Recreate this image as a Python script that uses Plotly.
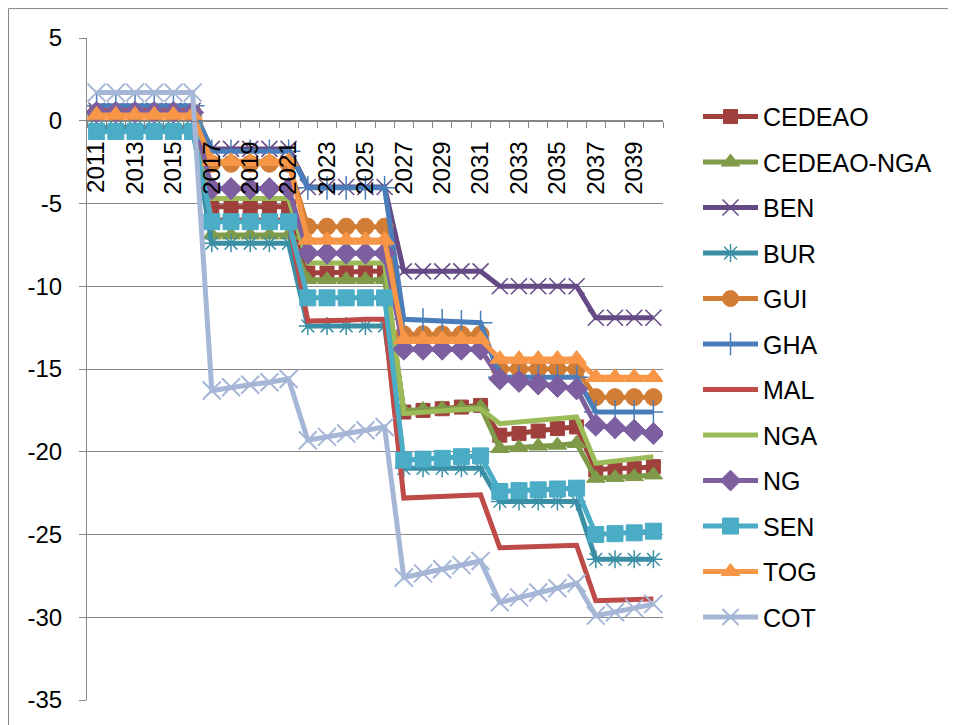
import plotly.graph_objects as go

years = list(range(2011, 2041))
tick_years = list(range(2011, 2041, 2))
y_ticks = [5, 0, -5, -10, -15, -20, -25, -30, -35]
series_names = ["CEDEAO", "CEDEAO-NGA", "BEN", "BUR", "GUI", "GHA", "MAL", "NGA", "NG", "SEN", "TOG", "COT"]

CEDEAO = [0.5]*6 + [-5.2]*5 + [-9.2, -9.2, -9.15, -9.1, -9.1] + [-17.6, -17.5, -17.4, -17.3, -17.2] + [-19.0, -18.9, -18.75, -18.6, -18.5] + [-21.1, -21.0, -21.0, -20.9]
CEDEAO_NGA = [0.5]*6 + [-6.9]*5 + [-9.6]*5 + [-17.5, -17.45, -17.4, -17.35, -17.3] + [-19.8, -19.75, -19.65, -19.6, -19.5] + [-21.6, -21.55, -21.5, -21.4]
BEN = [0.6]*6 + [-1.7]*5 + [-4.0]*5 + [-9.1]*5 + [-10.0]*5 + [-11.9]*4
BUR = [-0.4]*6 + [-7.4]*5 + [-12.4]*5 + [-21.0]*5 + [-23.0]*5 + [-26.5]*4
GUI = [0.5]*6 + [-2.6]*5 + [-6.4]*5 + [-12.9]*5 + [-15.0]*5 + [-16.7]*4
GHA = [0.9]*6 + [-1.85]*5 + [-4.05]*5 + [-12.0, -12.05, -12.1, -12.15, -12.2] + [-15.5]*5 + [-17.6]*4
MAL = [0.6]*6 + [-6.0]*5 + [-12.1, -12.1, -12.05, -12.0, -12.0] + [-22.8, -22.75, -22.7, -22.65, -22.6] + [-25.8, -25.75, -25.7, -25.7, -25.65] + [-29.0, -28.95, -28.95, -28.9]
NGA = [0.5]*6 + [-4.7]*5 + [-8.6]*5 + [-17.7, -17.6, -17.55, -17.45, -17.4] + [-18.3, -18.2, -18.1, -18.0, -17.9] + [-20.7, -20.55, -20.45, -20.3]
NG = [0.5]*6 + [-4.1]*5 + [-8.0]*5 + [-13.8]*5 + [-15.6, -15.75, -15.9, -16.05, -16.2] + [-18.4, -18.55, -18.7, -18.9]
SEN = [-0.65]*6 + [-6.1]*5 + [-10.7]*5 + [-20.5, -20.45, -20.4, -20.3, -20.25] + [-22.4, -22.35, -22.3, -22.25, -22.2] + [-25.0, -24.95, -24.9, -24.8]
TOG = [0.35]*6 + [-2.45]*5 + [-7.2]*5 + [-13.2]*5 + [-14.4]*5 + [-15.5]*4
COT = [1.7]*6 + [-16.3, -16.1, -15.95, -15.8, -15.6] + [-19.3, -19.1, -18.9, -18.7, -18.5] + [-27.6, -27.35, -27.1, -26.85, -26.6] + [-29.1, -28.8, -28.5, -28.25, -27.95] + [-29.9, -29.7, -29.45, -29.2]

values = [CEDEAO, CEDEAO_NGA, BEN, BUR, GUI, GHA, MAL, NGA, NG, SEN, TOG, COT]
colors = ["#A0403D", "#7F9A48", "#654A85", "#3B8FA5", "#D27D35", "#4A7EBB",
          "#BE4B48", "#9BBB59", "#7D5FA0", "#4BACC6", "#F79646", "#A5B6D6"]
symbols = ["square", "triangle-up", "x-thin-open", "asterisk-open", "circle", "cross-thin-open",
           None, None, "diamond", "square", "triangle-up", "x-thin-open"]
sizes = [14, 16, 16, 15, 17, 17, 0, 0, 17, 16, 17, 18]

fig = go.Figure()
for name, vals, col, sym, sz in zip(series_names, values, colors, symbols, sizes):
    if sym is None:
        mode = "lines"
        marker = dict()
    else:
        mode = "lines+markers"
        lw = 1.5 if ("thin" in sym or "asterisk" in sym) else 1
        if name == "COT":
            lw = 2
        marker = dict(symbol=sym, size=sz, color=col, line=dict(color=col, width=lw))
    fig.add_trace(go.Scatter(x=years, y=vals, name=name, mode=mode,
                             line=dict(color=col, width=5), marker=marker,
                             legendgroup=name))

grid = "#868686"
fig.update_layout(
    width=948, height=717,
    margin=dict(l=79, r=293, t=30, b=23),
    paper_bgcolor="white", plot_bgcolor="white",
    font=dict(family="Liberation Sans, Arial, sans-serif", size=24, color="black"),
    showlegend=True,
    legend=dict(x=1.0608, y=0.9157, xanchor="left", yanchor="top",
                font=dict(size=25), itemwidth=55, tracegroupgap=10,
                traceorder="grouped", bgcolor="rgba(0,0,0,0)"),
    xaxis=dict(range=[2010.5, 2040.5], tickvals=tick_years, ticktext=[str(y) for y in tick_years],
               tickangle=-90, anchor="free", position=0.875, showline=True, linecolor=grid,
               linewidth=1, showgrid=False, zeroline=False, ticks="", ticklabelstandoff=10,
               minor=dict(ticks="outside", tick0=2010.5, dtick=1, ticklen=6, tickcolor=grid, showgrid=False),
               tickfont=dict(size=24)),
    yaxis=dict(range=[-35, 5], tickvals=y_ticks, ticktext=[str(v) for v in y_ticks],
               showgrid=True, gridcolor=grid, gridwidth=1,
               showline=True, linecolor=grid, linewidth=1, zeroline=False,
               ticks="outside", ticklen=7, tickcolor=grid, ticklabelstandoff=12,
               tickfont=dict(size=24)),
    shapes=[dict(type="rect", xref="paper", yref="paper", x0=(0.5 - 79) / 576, x1=2, y0=-0.2,
                 y1=1 + 29.5 / 664,
                 line=dict(color=grid, width=1), fillcolor="rgba(0,0,0,0)", layer="below")],
)

fig.write_html("out.html")
